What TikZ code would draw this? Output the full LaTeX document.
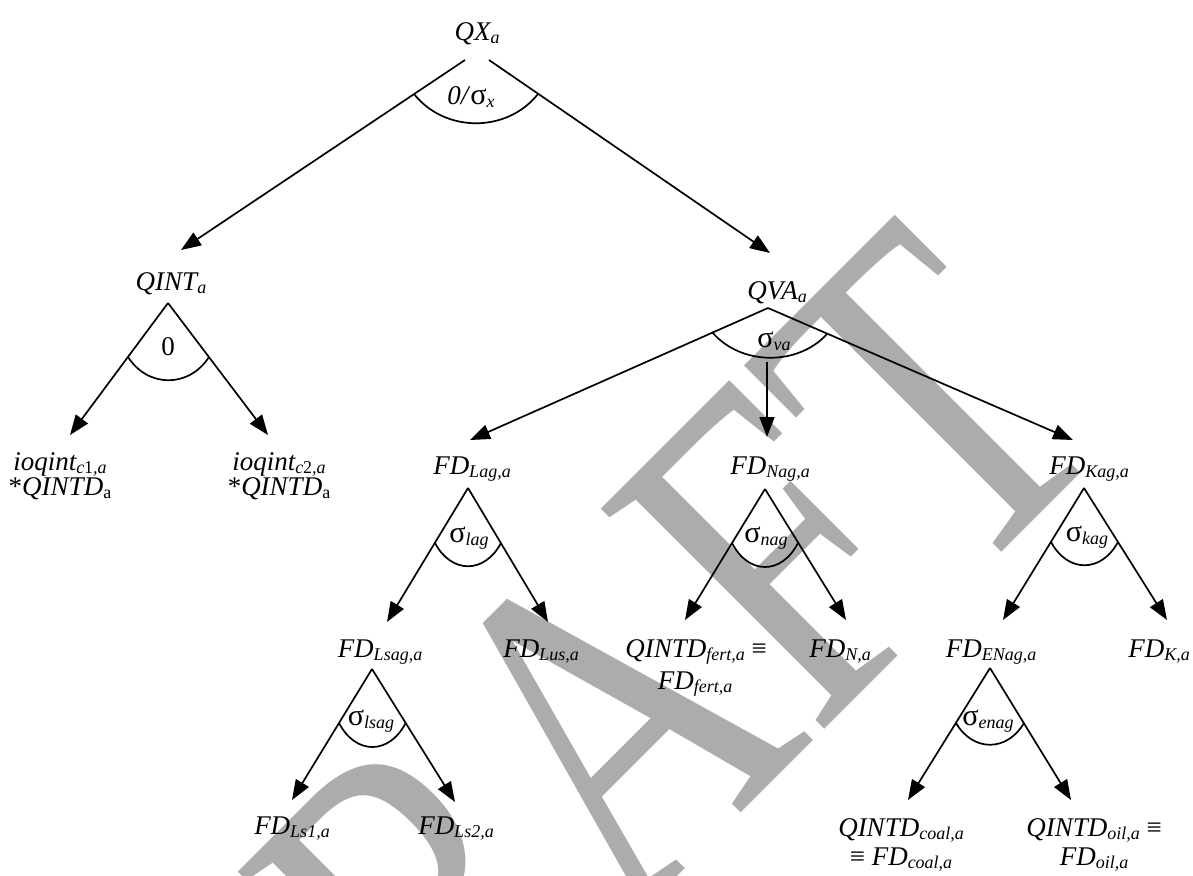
\documentclass[tikz,border=0pt]{standalone}
\usepackage{fontspec}
\setmainfont{Liberation Serif}
\usetikzlibrary{arrows.meta}
\definecolor{wmgray}{RGB}{172,172,172}
\newcommand{\sbx}[1]{\raisebox{-1.7pt}{\fontsize{9}{9}\selectfont #1}}
\newcommand{\sig}{\textup{\scalebox{1.12}{σ}}}
\begin{document}
\begin{tikzpicture}[x=0.5pt,y=-0.5pt,
  lbl/.style={font=\fontsize{13.5}{15}\selectfont\itshape, inner sep=0pt, anchor=base},
  ln/.style={line width=0.85pt},
  arr/.style={line width=0.85pt,-{Triangle[length=10pt,width=7.5pt]}},
  wmark/.style={font=\fontsize{185}{185}\selectfont, text=wmgray, inner sep=0pt, anchor=base west, rotate=45}]
\path[use as bounding box] (0,0) rectangle (1193,875);
\begin{scope}
\clip (0,0) rectangle (1193,875);
\node[wmark] (wm) at (263,1291) {\scalebox{1}[1.295]{DRAFT}};
\end{scope}

% text nodes
\node[lbl] (qx) at (477,40) {QX\sbx{a}};
\node[lbl] (qint) at (171,290) {QINT\sbx{a}};
\node[lbl] (qva) at (777,299) {QVA\sbx{a}};
\node[lbl] (io1a) at (60,470) {ioqint\sbx{c\textup{1},a}};
\node[lbl] (io1b) at (60,495) {\textup{*}QINTD\sbx{\textup{a}}};
\node[lbl] (io2a) at (279,470) {ioqint\sbx{c\textup{2},a}};
\node[lbl] (io2b) at (279,495) {\textup{*}QINTD\sbx{\textup{a}}};
\node[lbl] (lag) at (472,474) {FD\sbx{Lag,a}};
\node[lbl] (nag) at (770,474) {FD\sbx{Nag,a}};
\node[lbl] (kag) at (1089,474) {FD\sbx{Kag,a}};
\node[lbl] (lsag) at (380,657) {FD\sbx{Lsag,a}};
\node[lbl] (lus) at (541,657) {FD\sbx{Lus,a}};
\node[lbl] (fert1) at (696,657) {QINTD\sbx{fert,a} \textup{≡}};
\node[lbl] (fert2) at (695,689) {FD\sbx{fert,a}};
\node[lbl] (fdn) at (840,657) {FD\sbx{N,a}};
\node[lbl] (enag) at (991,657) {FD\sbx{ENag,a}};
\node[lbl] (fdk) at (1159,657) {FD\sbx{K,a}};
\node[lbl] (ls1) at (292,834) {FD\sbx{Ls1,a}};
\node[lbl] (ls2) at (456,834) {FD\sbx{Ls2,a}};
\node[lbl] (coal1) at (901,836) {QINTD\sbx{coal,a}};
\node[lbl] (coal2) at (901,865) {\textup{≡} FD\sbx{coal,a}};
\node[lbl] (oil1) at (1094,836) {QINTD\sbx{oil,a} \textup{≡}};
\node[lbl] (oil2) at (1094,865) {FD\sbx{oil,a}};

% elasticity labels
\node[lbl] (s0) at (471,104) {0/\sig\sbx{x}};
\node[lbl] (s1) at (168,355) {\textup{0}};
\node[lbl] (s2) at (774,347) {\sig\sbx{va}};
\node[lbl] (s3) at (469,542) {\sig\sbx{lag}};
\node[lbl] (s4) at (766,542) {\sig\sbx{nag}};
\node[lbl] (s5) at (1087,541) {\sig\sbx{kag}};
\node[lbl] (s6) at (371,725) {\sig\sbx{lsag}};
\node[lbl] (s7) at (988,725) {\sig\sbx{enag}};

% fork apexes and arrow tips
\coordinate (qxl) at (465,60);   \coordinate (qxr) at (489,60);
\coordinate (tqint) at (181,250); \coordinate (tqva) at (770,253);
\coordinate (qinta) at (168,303); \coordinate (tio1) at (70,435); \coordinate (tio2) at (268,435);
\coordinate (qvaa) at (768,308);  \coordinate (tlag) at (470,440); \coordinate (tkag) at (1073,440);
\coordinate (vas) at (767,362);   \coordinate (tnag) at (767,437);
\coordinate (laga) at (468,488);  \coordinate (tlsag) at (387,622); \coordinate (tlus) at (548,622);
\coordinate (naga) at (765,489);  \coordinate (tfert) at (685,620); \coordinate (tfdn) at (846,620);
\coordinate (kaga) at (1084,488); \coordinate (tenag) at (1003,620); \coordinate (tfdk) at (1167,620);
\coordinate (lsaga) at (372,669); \coordinate (tls1) at (292,800); \coordinate (tls2) at (455,802);
\coordinate (enaga) at (990,668); \coordinate (tcoal) at (908,800); \coordinate (toil) at (1071,800);

% connectors
\draw[arr] (qxl) -- (tqint);
\draw[arr] (qxr) -- (tqva);
\draw[arr] (qinta) -- (tio1);
\draw[arr] (qinta) -- (tio2);
\draw[arr] (qvaa) -- (tlag);
\draw[arr] (qvaa) -- (tkag);
\draw[arr] (vas) -- (tnag);
\draw[arr] (laga) -- (tlsag);
\draw[arr] (laga) -- (tlus);
\draw[arr] (naga) -- (tfert);
\draw[arr] (naga) -- (tfdn);
\draw[arr] (kaga) -- (tenag);
\draw[arr] (kaga) -- (tfdk);
\draw[arr] (lsaga) -- (tls1);
\draw[arr] (lsaga) -- (tls2);
\draw[arr] (enaga) -- (tcoal);
\draw[arr] (enaga) -- (toil);

% elasticity arcs
\draw[ln] (414,94) .. controls (445,133) and (507,133) .. (538,94);
\draw[ln] (128,357) .. controls (148,388) and (189,388) .. (209,357);
\draw[ln] (712,332) .. controls (741,366) and (798,366) .. (827,334);
\draw[ln] (435,543) .. controls (451.5,574) and (484.5,574) .. (501,543);
\draw[ln] (732,543) .. controls (748.5,575) and (781.5,575) .. (798,543);
\draw[ln] (1051,542) .. controls (1067.75,573) and (1101.25,573) .. (1118,542);
\draw[ln] (339,723) .. controls (355.7,755) and (389,755) .. (405.7,723);
\draw[ln] (956,723) .. controls (973,752) and (1007,752) .. (1024,723);
\end{tikzpicture}
\end{document}
